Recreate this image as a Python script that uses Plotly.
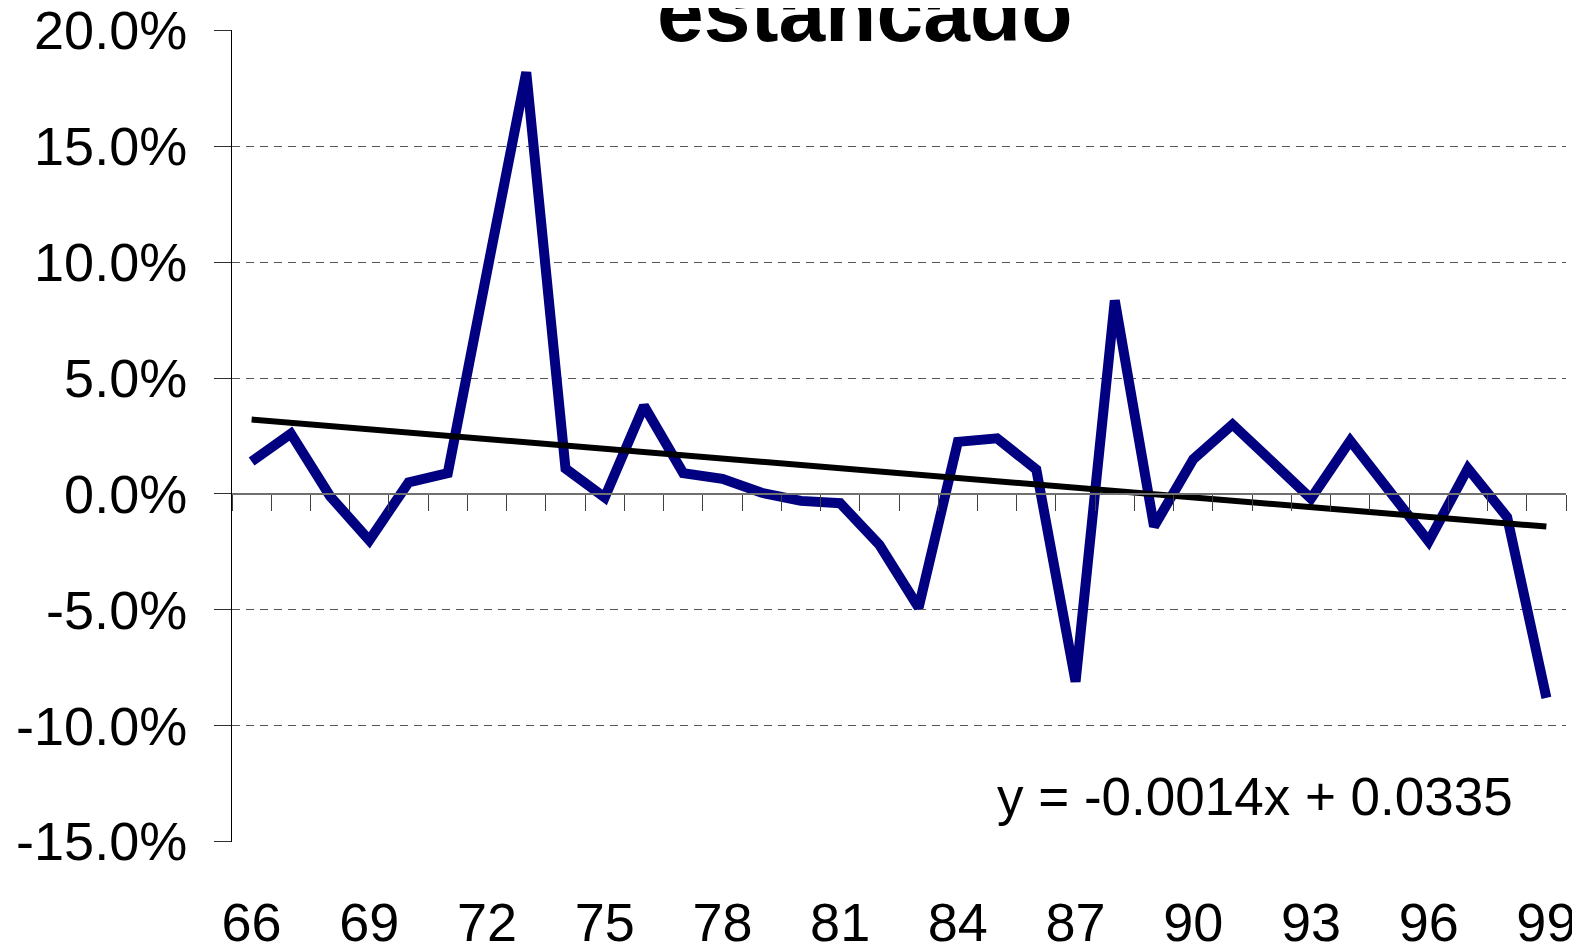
import plotly.graph_objects as go

# ---- data ----
years = [str(y) for y in range(66, 100)]
growth = [0.014, 0.026, -0.001, -0.020, 0.005, 0.009, 0.096, 0.182, 0.011, -0.0015,
          0.038, 0.009, 0.0065, 0.0005, -0.003, -0.004, -0.022, -0.049, 0.0225, 0.024,
          0.0105, -0.081, 0.0835, -0.014, 0.015, 0.030, 0.014, -0.002, 0.023, 0.001,
          -0.0205, 0.011, -0.010, -0.088]
tick_labels = ["66", "69", "72", "75", "78", "81", "84", "87", "90", "93", "96", "99"]
y_ticks = [-0.15, -0.10, -0.05, 0.0, 0.05, 0.10, 0.15, 0.20]
y_tick_text = ["-15.0%", "-10.0%", "-5.0%", "0.0%", "5.0%", "10.0%", "15.0%", "20.0%"]
title_text = "estancado"
trend_slope = -0.0014
trend_intercept = 0.0335
equation_text = "y = -0.0014x + 0.0335"

trend = [trend_slope * (i + 1) + trend_intercept for i in range(len(years))]

FONT = "Liberation Sans, Arial, sans-serif"

fig = go.Figure()
fig.add_trace(go.Scatter(x=years, y=growth, mode="lines",
                         line=dict(color="#000080", width=10),
                         xaxis="x", yaxis="y", showlegend=False, hoverinfo="skip"))
fig.add_trace(go.Scatter(x=[years[0], years[-1]], y=[trend[0], trend[-1]], mode="lines",
                         line=dict(color="#000000", width=6),
                         xaxis="x2", yaxis="y", showlegend=False, hoverinfo="skip"))

rng = [-0.5, len(years) - 0.5]
fig.update_layout(
    width=1572, height=939,
    margin=dict(l=224, r=14, t=22, b=105),
    paper_bgcolor="white", plot_bgcolor="white",
    font=dict(family=FONT, color="black"),
    xaxis=dict(type="category", categoryarray=years, range=rng, automargin=False,
               tickmode="array", tickvals=tick_labels, ticktext=tick_labels,
               showline=False, ticks="", showgrid=False, zeroline=False,
               tickfont=dict(size=54, family=FONT), ticklabelstandoff=44,
               ticklabeloverflow="allow"),
    xaxis2=dict(type="category", categoryarray=years, range=rng, overlaying="x",
                anchor="free", position=15 / 35, side="bottom", automargin=False,
                showline=True, linecolor="#707070", linewidth=1.5,
                ticks="outside", ticklen=16, tickcolor="#404040", tickwidth=1,
                tickson="boundaries", showticklabels=False, showgrid=False,
                zeroline=False),
    yaxis=dict(range=[-0.1502, 0.2002], tickmode="array", tickvals=y_ticks,
               ticktext=y_tick_text, automargin=False, ticklabeloverflow="allow",
               tickfont=dict(size=54, family=FONT),
               showline=True, linecolor="black", linewidth=1,
               ticks="outside", ticklen=17, tickcolor="#303030",
               showgrid=True, gridcolor="#555555", gridwidth=1, griddash="8px,6px",
               zeroline=False, ticklabelstandoff=16),
)

fig.add_annotation(text="<b>" + title_text + "</b>", xref="paper", yref="paper",
                   x=(865 - 232) / 1334, y=1.0226, xanchor="center", yanchor="middle",
                   showarrow=False, font=dict(size=84, family=FONT, color="black"))
fig.add_annotation(text=equation_text, xref="paper", yref="y",
                   x=(1515 - 232) / 1334, y=-0.1304, xanchor="right", yanchor="middle",
                   showarrow=False, font=dict(size=53, family=FONT, color="black"))

fig.write_html("out.html")
